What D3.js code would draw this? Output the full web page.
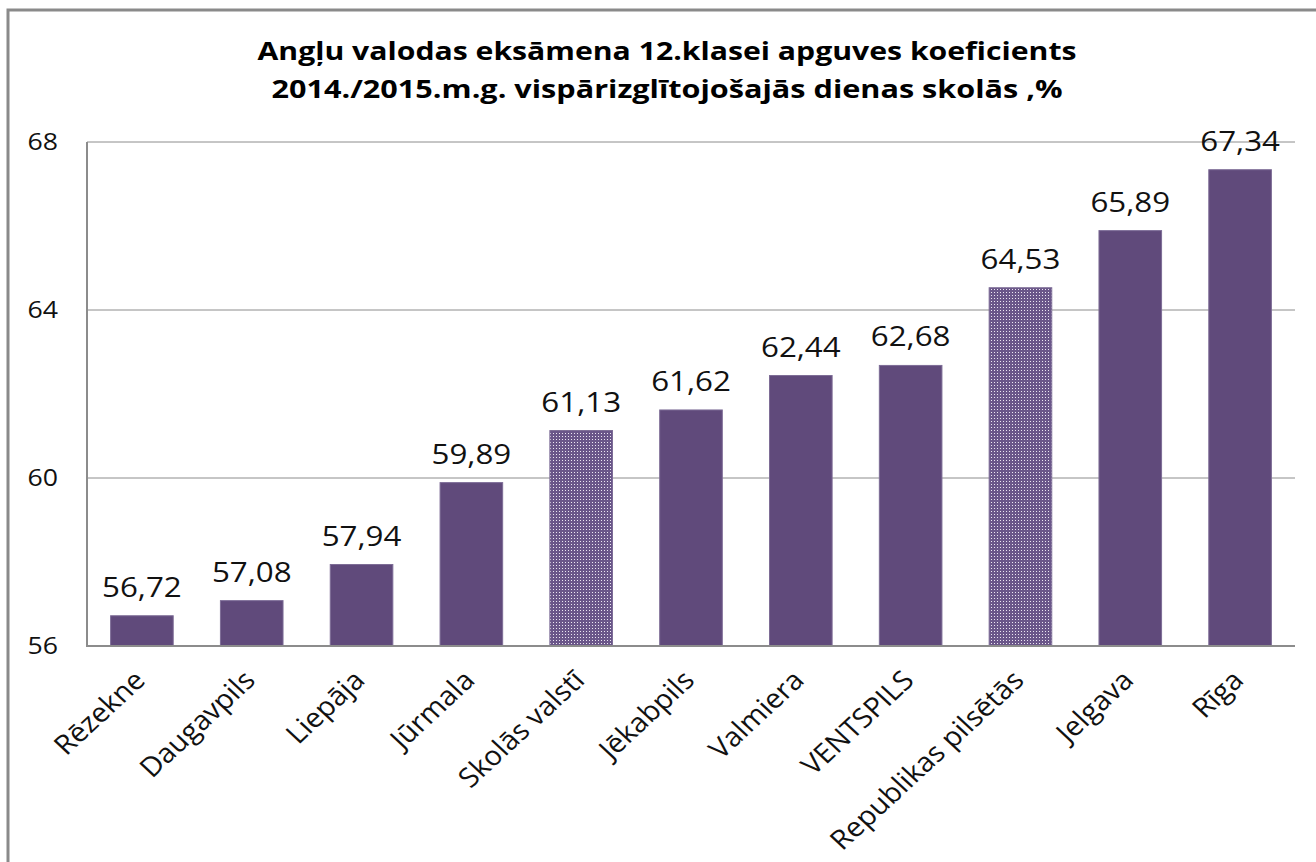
<!DOCTYPE html>
<html>
<head>
<meta charset="utf-8">
<script src="https://cdn.jsdelivr.net/npm/d3@7"></script>
<style>
  body { margin: 0; background: #fff; }
  text { font-family: "Open Sans", sans-serif; }
</style>
</head>
<body>
<div id="chart"></div>
<script>
// chart data
const cities = ["Rēzekne", "Daugavpils", "Liepāja", "Jūrmala", "Skolās valstī", "Jēkabpils",
  "Valmiera", "VENTSPILS", "Republikas pilsētās", "Jelgava", "Rīga"]
const values = [56.72, 57.08, 57.94, 59.89, 61.13, 61.62, 62.44, 62.68, 64.53, 65.89, 67.34]
const averages = ["Skolās valstī", "Republikas pilsētās"]   // drawn with dotted fill
const yTicks = [56, 60, 64, 68]
const titleLines = ["Angļu valodas eksāmena 12.klasei apguves koeficients",
  "2014./2015.m.g. vispārizglītojošajās dienas skolās ,%"]

const width = 1316
const height = 862
const sx = 1.16   // the picture is a bit wider than tall, stretch text to match

const svg = d3.select("#chart").append("svg")
  .attr("width", width)
  .attr("height", height)

// pattern for the two average bars
const defs = svg.append("defs")
const pat = defs.append("pattern")
  .attr("id", "dots")
  .attr("patternUnits", "userSpaceOnUse")
  .attr("width", 3).attr("height", 3)
pat.append("rect").attr("width", 3).attr("height", 3).attr("fill", "#6a5689")
pat.append("rect").attr("x", 1).attr("y", 1).attr("width", 1).attr("height", 1).attr("fill", "#ece6f2")

// outer frame of the chart object
svg.append("rect")
  .attr("x", 8).attr("y", 10)
  .attr("width", 1400).attr("height", 1000)
  .attr("fill", "none")
  .attr("stroke", "#8a8a8a")
  .attr("stroke-width", 3)

// title
svg.append("g").selectAll("text")
  .data(titleLines)
  .enter().append("text")
  .attr("x", 667)
  .attr("y", (d, i) => 60 + i * 38)
  .attr("text-anchor", "middle")
  .attr("font-size", "25px")
  .attr("font-weight", "bold")
  .attr("fill", "#000")
  .attr("textLength", (d, i) => i == 0 ? 819 : 791)
  .attr("lengthAdjust", "spacingAndGlyphs")
  .text(d => d)

// scales
const x = d3.scaleBand()
  .domain(cities)
  .range([87, 1295])
  .paddingInner(0.43)
  .paddingOuter(0.215)

const y = d3.scaleLinear()
  .domain([56, 68])
  .range([646, 142])

// gridlines
svg.append("g").selectAll("line")
  .data(yTicks.filter(t => t > 56))
  .enter().append("line")
  .attr("x1", 87).attr("x2", 1295)
  .attr("y1", d => y(d)).attr("y2", d => y(d))
  .attr("stroke", "#8c8c8c")
  .attr("stroke-width", 1)

// y tick labels
svg.append("g").selectAll("text")
  .data(yTicks)
  .enter().append("text")
  .attr("transform", d => "translate(58," + (y(d) + 8) + ") scale(" + sx + ",1)")
  .attr("text-anchor", "end")
  .attr("font-size", "23px")
  .attr("fill", "#111")
  .text(d => d)

// bars
const rows = cities.map((c, i) => ({ city: c, value: values[i] }))

svg.append("g").selectAll("rect")
  .data(rows)
  .enter().append("rect")
  .attr("x", d => x(d.city))
  .attr("y", d => y(d.value))
  .attr("width", x.bandwidth())
  .attr("height", d => y(56) - y(d.value))
  .attr("fill", d => averages.includes(d.city) ? "url(#dots)" : "#604a7b")
  .attr("stroke", "#7d6c96")
  .attr("stroke-width", 1)

// axis lines
svg.append("line")
  .attr("x1", 87).attr("x2", 87)
  .attr("y1", y(68)).attr("y2", y(56))
  .attr("stroke", "#8c8c8c").attr("stroke-width", 2)
svg.append("line")
  .attr("x1", 86).attr("x2", 1295)
  .attr("y1", y(56)).attr("y2", y(56))
  .attr("stroke", "#8c8c8c").attr("stroke-width", 2)

// value labels
const fmt = d3.format(".2f")
svg.append("g").selectAll("text")
  .data(rows)
  .enter().append("text")
  .attr("transform", d => "translate(" + (x(d.city) + x.bandwidth() / 2) + "," + (y(d.value) - 19) + ") scale(" + sx + ",1)")
  .attr("text-anchor", "middle")
  .attr("font-size", "27px")
  .attr("fill", "#111")
  .text(d => fmt(d.value).replace(".", ","))

// category labels, rotated
svg.append("g").selectAll("text")
  .data(cities)
  .enter().append("text")
  .attr("transform", d => "translate(" + (x(d) + x.bandwidth() / 2 + 5) + "," + (y(56) + 36) + ") scale(1.08,1) rotate(-45)")
  .attr("text-anchor", "end")
  .attr("font-size", "27px")
  .attr("fill", "#111")
  .text(d => d)
</script>
</body>
</html>
